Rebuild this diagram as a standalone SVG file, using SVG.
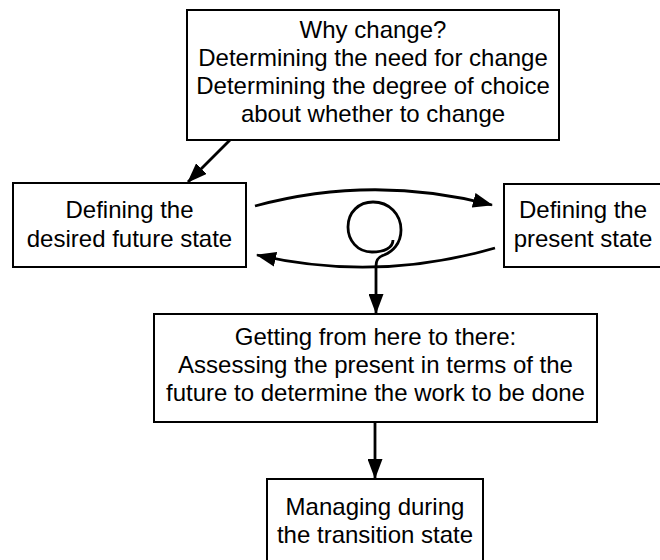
<svg xmlns="http://www.w3.org/2000/svg" width="660" height="560" viewBox="0 0 660 560">
  <style>
    .box { fill: #fff; stroke: #000; stroke-width: 2; }
    .label { font-family: "Liberation Sans", Arial, sans-serif; font-size: 24px; fill: #000; text-anchor: middle; }
    .conn { fill: none; stroke: #000; stroke-width: 2.8; }
  </style>
  <defs>
    <marker id="head" viewBox="0 0 20 15" refX="19" refY="7.5" markerWidth="20" markerHeight="15" markerUnits="userSpaceOnUse" orient="auto">
      <path d="M0,0 L20,7.5 L0,15 Z" fill="#000"/>
    </marker>
  </defs>
  <rect width="660" height="560" fill="#fff"/>

  <g id="why-change">
    <rect class="box" x="187" y="10" width="372" height="130"/>
    <text class="label" x="373" y="38">Why change?</text>
    <text class="label" x="373" y="66">Determining the need for change</text>
    <text class="label" x="373" y="94">Determining the degree of choice</text>
    <text class="label" x="373" y="122">about whether to change</text>
  </g>

  <g id="future-state">
    <rect class="box" x="13" y="183" width="233" height="84"/>
    <text class="label" x="129.5" y="218">Defining the</text>
    <text class="label" x="129.5" y="247">desired future state</text>
  </g>

  <g id="present-state">
    <rect class="box" x="504" y="184" width="160" height="83"/>
    <text class="label" x="583" y="218">Defining the</text>
    <text class="label" x="583" y="247">present state</text>
  </g>

  <g id="here-to-there">
    <rect class="box" x="154" y="314" width="443" height="108"/>
    <text class="label" x="375.5" y="345">Getting from here to there:</text>
    <text class="label" x="375.5" y="373">Assessing the present in terms of the</text>
    <text class="label" x="375.5" y="401">future to determine the work to be done</text>
  </g>

  <g id="transition-state">
    <rect class="box" x="267" y="479" width="216" height="90"/>
    <text class="label" x="375" y="515">Managing during</text>
    <text class="label" x="375" y="543">the transition state</text>
  </g>

  <g id="connectors">
    <line class="conn" x1="230" y1="140" x2="188" y2="182" marker-end="url(#head)"/>
    <path class="conn" d="M255,206 Q373,174 492,205" marker-end="url(#head)"/>
    <path class="conn" d="M495,248 Q376,282.5 257,255" marker-end="url(#head)"/>
    <path class="conn" d="M393,240 C393,248 384,252 372,252 C357,252 348,240 348,227 C348,212 359,202 373,202 C389,202 401,214 401,230 C401,244 392,252 384,255 C378,257 376,260 376,266 L376,313" marker-end="url(#head)"/>
    <line class="conn" x1="375" y1="423" x2="375" y2="478" marker-end="url(#head)"/>
  </g>
</svg>
